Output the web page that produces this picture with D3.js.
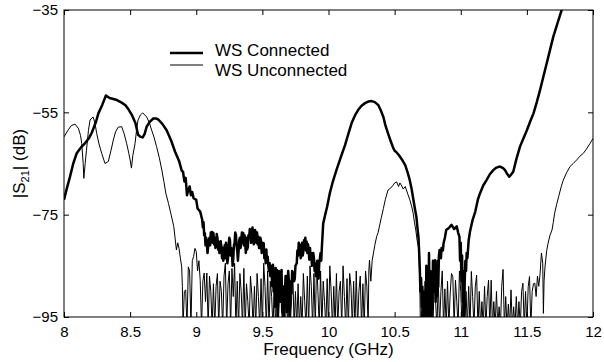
<!DOCTYPE html>
<html>
<head>
<meta charset="utf-8">
<script src="https://cdn.jsdelivr.net/npm/d3@7"></script>
<style>
  html, body { margin: 0; padding: 0; background: #fff; }
  svg { display: block; font-family: "Liberation Sans", Arial, Helvetica, sans-serif; }
</style>
</head>
<body>
<svg id="chart" width="604" height="362"></svg>
<script>
// ---------- DATA ----------
const xTicks = [8, 8.5, 9, 9.5, 10, 10.5, 11, 11.5, 12];
const yTicks = [-35, -55, -75, -95];
const seriesNames = ["WS Connected", "WS Unconnected"];

const connectedFreq = [
  8.00, 8.02, 8.045, 8.07, 8.096, 8.13, 8.16, 8.19, 8.21, 8.24, 8.26, 8.29, 8.317, 8.345, 8.373, 8.40,
  8.436, 8.465, 8.49, 8.515, 8.54, 8.56, 8.58, 8.595, 8.61, 8.625, 8.65, 8.675, 8.695, 8.713, 8.745, 8.776,
  8.81, 8.84, 8.87, 8.89, 8.90, 8.91, 8.92, 8.93, 8.94, 8.95, 8.96, 8.97, 8.98, 9.00, 9.01, 9.03,
  9.045, 9.05, 9.055, 9.06, 9.065, 9.07, 9.075, 9.08, 9.085, 9.09,
  9.095, 9.10, 9.105, 9.11, 9.115, 9.12, 9.125, 9.13, 9.135, 9.14,
  9.145, 9.15, 9.155, 9.16, 9.165, 9.17, 9.175, 9.18, 9.185, 9.19,
  9.195, 9.20, 9.205, 9.21, 9.215, 9.22, 9.225, 9.23, 9.235, 9.24,
  9.245, 9.25, 9.255, 9.26, 9.265, 9.27, 9.275, 9.28, 9.285, 9.29,
  9.295, 9.30, 9.305, 9.31, 9.315, 9.32, 9.325, 9.33, 9.335, 9.34,
  9.345, 9.35, 9.355, 9.36, 9.365, 9.37, 9.375, 9.38, 9.385, 9.39,
  9.395, 9.40, 9.405, 9.41, 9.415, 9.42, 9.425, 9.43, 9.435, 9.44,
  9.445, 9.45, 9.455, 9.46, 9.465, 9.47, 9.475, 9.48, 9.485, 9.49,
  9.495, 9.50, 9.505, 9.51, 9.515, 9.52, 9.525, 9.53, 9.535, 9.54,
  9.545,
  9.55, 9.555, 9.56, 9.565, 9.57, 9.575, 9.58, 9.585, 9.59, 9.595,
  9.60, 9.605, 9.61, 9.615, 9.62, 9.625, 9.63, 9.635, 9.645, 9.65,
  9.655, 9.66, 9.665, 9.67, 9.675, 9.68, 9.685, 9.69, 9.695, 9.70,
  9.705, 9.71, 9.715, 9.72, 9.725, 9.73, 9.74, 9.745, 9.75,
  9.76, 9.765, 9.77, 9.775, 9.78, 9.785, 9.79, 9.795, 9.80, 9.805,
  9.81, 9.815, 9.82, 9.825, 9.83, 9.835, 9.84, 9.845, 9.85, 9.855,
  9.86, 9.865, 9.87, 9.875, 9.88, 9.885, 9.89, 9.895, 9.90, 9.905,
  9.91, 9.915, 9.92, 9.925, 9.93, 9.935, 9.94, 9.945, 9.95,
  9.96, 9.975, 9.99, 10.01, 10.03, 10.06, 10.09, 10.125, 10.15, 10.175, 10.20, 10.225, 10.25, 10.276, 10.30,
  10.327, 10.35, 10.377, 10.395, 10.415, 10.43, 10.45, 10.47, 10.49, 10.50, 10.51, 10.53, 10.555, 10.58, 10.60, 10.615,
  10.63, 10.64, 10.655, 10.665, 10.675, 10.68, 10.685, 10.69, 10.695, 10.70, 10.705, 10.71, 10.715, 10.72, 10.725, 10.73,
  10.735, 10.74, 10.745, 10.75, 10.755, 10.76, 10.765, 10.77, 10.775, 10.78, 10.785, 10.79, 10.795, 10.80, 10.805, 10.81,
  10.815, 10.82, 10.825, 10.83, 10.835, 10.84, 10.85, 10.855, 10.865, 10.87, 10.88, 10.89, 10.91, 10.93, 10.95, 10.97,
  10.98, 10.99, 10.995, 11.00, 11.005, 11.01, 11.015, 11.02, 11.025, 11.03, 11.035, 11.04, 11.045, 11.05, 11.06, 11.07,
  11.09, 11.11, 11.13, 11.146, 11.17, 11.196, 11.22, 11.246, 11.27, 11.297, 11.32, 11.335, 11.35, 11.367, 11.38, 11.397,
  11.42, 11.448, 11.475, 11.50, 11.525, 11.55, 11.575, 11.60, 11.625, 11.65, 11.675, 11.70, 11.73, 11.763, 11.80
];
const connectedDb = [
  -72.1, -70.0, -67.6, -65.0, -63.0, -61.8, -61.0, -60.0, -59.0, -57.0, -55.2, -53.5, -51.7, -52.2, -52.4, -52.6,
  -53.1, -53.6, -54.5, -55.6, -57.1, -59.4, -59.8, -59.9, -59.2, -57.8, -56.8, -56.2, -56.2, -56.4, -57.3, -58.5,
  -60.5, -62.7, -64.5, -66.4, -66.6, -68.5, -67.8, -71.2, -70.2, -69.5, -71.2, -70.6, -71.8, -72.1, -73.8, -74.4,
  -76.0, -77.5, -76.5, -79.0, -78.6, -81.0, -79.5, -80.5, -82.5, -81.3,
  -80.0, -79.5, -81.0, -78.5, -79.8, -78.4, -80.5, -78.6, -80.8, -79.5,
  -81.5, -80.5, -78.8, -79.5, -81.8, -80.3, -82.5, -82.0, -80.2, -81.3,
  -83.5, -81.5, -84.0, -82.8, -81.0, -83.5, -80.5, -82.2, -84.5, -83.5,
  -81.0, -79.5, -80.0, -83.0, -81.5, -82.5, -85.0, -83.5, -81.0, -80.5,
  -78.5, -79.0, -81.0, -82.0, -84.0, -82.2, -80.0, -79.5, -81.5, -80.2,
  -78.5, -80.5, -78.6, -81.0, -79.0, -80.5, -82.5, -79.5, -81.8, -81.3,
  -79.0, -79.5, -77.8, -78.4, -80.5, -79.5, -77.5, -78.6, -80.8, -80.0,
  -78.0, -78.8, -80.5, -78.5, -80.8, -79.3, -81.5, -81.5, -79.5, -80.2,
  -82.5, -80.5, -82.0, -80.6, -83.5, -82.5, -84.5, -81.8, -84.0, -83.2,
  -85.0,
  -86.0, -84.5, -87.0, -85.0, -86.5, -89.0, -84.8, -90.0, -87.2, -93.0,
  -85.4, -88.0, -85.8, -95.0, -89.7, -86.0, -86.5, -92.0, -85.8, -94.0,
  -89.0, -96.0, -90.0, -91.7, -87.0, -87.0, -94.0, -89.5, -86.0, -87.8,
  -95.0, -92.0, -88.0, -90.4, -86.0, -86.5, -88.0, -87.5, -85.0,
  -84.5, -82.0, -83.0, -80.5, -82.5, -80.9, -83.5, -82.5, -80.5, -83.0,
  -82.2, -80.0, -81.0, -79.5, -82.0, -80.3, -82.5, -80.8, -82.0, -83.8,
  -81.5, -83.5, -82.5, -85.0, -84.0, -82.5, -83.5, -86.0, -84.5, -87.0,
  -85.8, -84.0, -86.1, -87.5, -84.5, -83.5, -82.5, -84.0, -81.3,
  -76.7, -75.0, -73.4, -70.8, -68.8, -66.3, -64.0, -61.4, -59.2, -57.1, -55.6, -54.5, -53.7, -53.2, -52.9,
  -52.8, -53.0, -53.6, -54.6, -55.9, -57.5, -59.1, -60.6, -62.0, -62.5, -62.7, -63.3, -64.2, -65.3, -66.9, -68.3,
  -70.2, -71.8, -74.1, -75.5, -78.2, -79.3, -82.0, -85.2, -90.0, -87.4, -93.0, -89.1, -96.0, -90.0, -97.0, -91.0,
  -97.0, -85.0, -93.0, -88.0, -97.0, -82.5, -92.0, -86.0, -97.0, -88.0, -93.6, -84.0, -90.0, -85.0, -83.9, -92.0,
  -86.0, -91.0, -84.0, -89.1, -83.0, -81.9, -83.5, -81.5, -82.0, -80.6, -79.5, -78.0, -77.6, -77.0, -77.8, -77.3,
  -78.5, -79.3, -84.0, -80.5, -88.0, -83.0, -92.0, -86.0, -97.0, -88.0, -84.0, -86.0, -82.5, -83.5, -80.0, -78.3,
  -76.0, -74.4, -72.0, -70.8, -69.3, -68.2, -67.1, -66.3, -65.8, -65.6, -65.9, -66.3, -67.0, -67.6, -67.2, -66.6,
  -64.2, -61.7, -60.0, -58.5, -56.8, -55.2, -53.0, -50.6, -48.0, -45.4, -42.8, -40.2, -37.7, -35.0, -32.0
];

const unconnectedFreq = [
  8.00, 8.03, 8.055, 8.083, 8.108, 8.125, 8.134, 8.145, 8.15, 8.16, 8.17, 8.185, 8.197, 8.22, 8.235, 8.247,
  8.265, 8.285, 8.31, 8.335, 8.355, 8.373, 8.39, 8.41, 8.436, 8.455, 8.474, 8.49, 8.50, 8.51, 8.52, 8.537,
  8.55, 8.56, 8.578, 8.595, 8.625, 8.645, 8.663, 8.68, 8.70, 8.72, 8.74, 8.755, 8.77, 8.79, 8.81, 8.83,
  8.85, 8.86, 8.87, 8.88, 8.89, 8.895,
  8.90, 8.91, 8.92, 8.93, 8.94, 8.95, 8.96, 8.97, 8.98, 8.99, 9.00, 9.01, 9.02, 9.03, 9.04, 9.05,
  9.06, 9.07, 9.08, 9.09, 9.10, 9.11, 9.12, 9.13, 9.14, 9.15, 9.16, 9.17, 9.18, 9.19, 9.20, 9.21,
  9.22, 9.23, 9.24, 9.25, 9.26, 9.27, 9.28, 9.29, 9.30, 9.31, 9.32, 9.33, 9.34, 9.35, 9.36, 9.37,
  9.38, 9.39, 9.40, 9.41, 9.42, 9.43, 9.44, 9.45, 9.46, 9.47, 9.48, 9.49, 9.50, 9.51, 9.52, 9.53,
  9.54, 9.55, 9.56, 9.57, 9.58, 9.59, 9.60, 9.61, 9.62, 9.63, 9.64, 9.65, 9.66, 9.67, 9.68, 9.69,
  9.70, 9.71, 9.72, 9.73, 9.74, 9.75, 9.76, 9.77, 9.78, 9.79, 9.80, 9.81, 9.82, 9.83, 9.84, 9.85,
  9.86, 9.87, 9.88, 9.89, 9.90, 9.91, 9.92, 9.93, 9.94, 9.95, 9.96, 9.97, 9.98, 9.99, 10.00, 10.01,
  10.02, 10.03, 10.04, 10.05, 10.06, 10.07, 10.08, 10.09, 10.10, 10.11, 10.12, 10.13, 10.14, 10.15, 10.16, 10.17,
  10.18, 10.19, 10.20, 10.21, 10.22, 10.23, 10.24, 10.25, 10.26, 10.27, 10.28, 10.29, 10.30,
  10.305, 10.31, 10.32, 10.33, 10.34, 10.35, 10.364, 10.375, 10.39, 10.40, 10.415, 10.43, 10.45, 10.47, 10.49, 10.50,
  10.515, 10.53, 10.54, 10.55, 10.565, 10.58, 10.60, 10.615, 10.63, 10.64, 10.65, 10.66, 10.67, 10.68, 10.685, 10.69, 10.695,
  10.70, 10.71, 10.72, 10.73, 10.74, 10.75, 10.76, 10.77, 10.78, 10.79, 10.80, 10.81, 10.82, 10.83, 10.84, 10.85,
  10.86, 10.87, 10.88, 10.89, 10.90, 10.91, 10.92, 10.93, 10.94, 10.95, 10.96, 10.97, 10.98, 10.99, 11.00, 11.01,
  11.02, 11.03, 11.04, 11.05, 11.06, 11.07, 11.08, 11.09, 11.10, 11.11, 11.12, 11.13, 11.14, 11.15, 11.16, 11.17,
  11.18, 11.19, 11.20, 11.21, 11.22, 11.23, 11.24, 11.25, 11.26, 11.27, 11.28, 11.29, 11.30, 11.31, 11.32, 11.33,
  11.34, 11.35, 11.36, 11.37, 11.38, 11.39, 11.40, 11.41, 11.42, 11.43, 11.44, 11.45, 11.46, 11.47, 11.48, 11.49,
  11.50, 11.51, 11.52, 11.53, 11.54, 11.55, 11.56, 11.57, 11.58, 11.59, 11.60, 11.61, 11.62, 11.625, 11.63, 11.637,
  11.65, 11.66, 11.675, 11.69, 11.70, 11.71, 11.725, 11.74, 11.76, 11.776, 11.80, 11.826, 11.85, 11.877, 11.90, 11.927,
  11.95, 11.977, 12.00
];
const unconnectedDb = [
  -59.8, -58.5, -57.6, -57.3, -58.1, -59.5, -61.1, -65.0, -67.9, -65.0, -62.4, -58.5, -56.5, -55.9, -57.2, -59.1,
  -61.2, -63.0, -65.0, -64.6, -62.5, -60.4, -58.8, -57.9, -57.8, -59.2, -61.1, -63.0, -64.3, -65.9, -63.5, -61.1,
  -58.2, -56.5, -55.5, -55.1, -55.9, -57.0, -58.5, -59.8, -61.7, -63.8, -66.3, -68.5, -70.8, -72.8, -75.0, -77.3,
  -81.9, -80.5, -81.6, -83.5, -85.2, -89.0,
  -97, -90.0, -89.7, -97, -85.2, -86.0, -97, -84.0, -83.2, -81.6, -82.2, -86.0, -84.0, -87.8, -97, -88.0,
  -86.4, -92.0, -86.4, -97, -87.0, -90.0, -97, -88.5, -97, -89.0, -86.5, -97, -88.0, -90.0, -97, -87.0,
  -84.5, -97, -88.5, -86.0, -97, -85.5, -91.0, -84.5, -97, -88.0, -97, -86.5, -90.0, -97, -85.5, -97,
  -88.5, -92.0, -97, -87.0, -90.5, -97, -89.0, -97, -86.5, -91.0, -97, -87.5, -97, -84.5, -89.0, -97,
  -86.0, -97, -88.0, -91.0, -97, -89.5, -97, -87.5, -97, -90.0, -86.5, -97, -91.5, -97, -88.0, -97,
  -89.5, -97, -92.0, -86.0, -97, -90.0, -97, -88.5, -97, -91.0, -97, -86.5, -92.0, -97, -87.0, -97,
  -85.0, -89.0, -97, -86.5, -97, -84.0, -90.0, -97, -86.0, -97, -88.0, -92.0, -97, -87.5, -97, -85.0,
  -90.0, -97, -89.0, -97, -86.5, -97, -90.0, -88.0, -97, -85.0, -91.0, -97, -87.5, -97, -86.5, -89.0,
  -97, -88.0, -97, -86.0, -97, -90.0, -87.0, -97, -88.5, -97, -86.0, -89.0, -97,
  -86.0, -83.9, -88.0, -84.0, -82.5, -81.0, -79.3, -78.5, -76.7, -75.5, -73.8, -72.0, -70.2, -69.8, -69.2, -68.8,
  -68.6, -69.5, -68.8, -69.2, -70.0, -69.5, -71.0, -72.1, -73.5, -74.7, -76.5, -78.0, -80.0, -81.3, -84.0, -87.8, -97,
  -97, -90.0, -97, -88.0, -97, -91.0, -86.5, -97, -89.0, -97, -87.0, -92.0, -97, -88.0, -97, -90.0,
  -86.0, -97, -89.5, -97, -88.0, -97, -90.5, -86.5, -87.1, -97, -87.8, -92.0, -97, -86.0, -90.0, -97,
  -88.0, -97, -90.0, -97, -89.0, -97, -86.1, -91.0, -97, -89.0, -86.8, -97, -90.0, -97, -92.0, -97,
  -89.0, -97, -91.0, -87.8, -97, -87.8, -97, -92.0, -97, -90.0, -97, -93.0, -97, -89.0, -85.7, -97,
  -91.0, -97, -92.5, -97, -89.7, -97, -93.0, -97, -91.0, -97, -92.0, -97, -90.0, -88.4, -97, -90.0,
  -97, -89.1, -87.1, -97, -90.0, -88.5, -88.4, -91.0, -87.0, -89.0, -86.5, -82.5, -84.5, -94.3, -88.0, -85.2,
  -82.0, -80.6, -79.0, -78.0, -76.5, -74.7, -73.0, -71.5, -69.5, -68.2, -66.8, -65.6, -65.0, -64.3, -63.6, -63.0,
  -62.2, -61.1, -60.1
];

if (connectedFreq.length !== connectedDb.length || unconnectedFreq.length !== unconnectedDb.length) {
  throw new Error("length mismatch " + connectedFreq.length + "/" + connectedDb.length + " " +
    unconnectedFreq.length + "/" + unconnectedDb.length);
}

// ---------- LAYOUT ----------
const svg = d3.select("#chart");
const L = 64, R = 593, T = 10, B = 317;
const x = d3.scaleLinear().domain([8, 12]).range([L, R]);
const y = d3.scaleLinear().domain([-95, -35]).range([B, T]);

svg.append("defs").append("clipPath").attr("id", "plotclip")
  .append("rect").attr("x", L).attr("y", T).attr("width", R - L).attr("height", B - T);

const connected = connectedFreq.map((f, i) => [f, connectedDb[i]]);
const unconnected = unconnectedFreq.map((f, i) => [f, unconnectedDb[i]]);
const line = d3.line().x(d => x(d[0])).y(d => y(d[1]));

const plot = svg.append("g").attr("clip-path", "url(#plotclip)");
plot.append("path").datum(unconnected).attr("d", line)
  .attr("fill", "none").attr("stroke", "#000").attr("stroke-width", 1).attr("stroke-linejoin", "round");
plot.append("path").datum(connected).attr("d", line)
  .attr("fill", "none").attr("stroke", "#000").attr("stroke-width", 2.5).attr("stroke-linejoin", "round");

// ---------- AXES ----------
const fmtX = d3.format("");
const fmtY = d3.format("");
function styleAxis(g) {
  g.select(".domain").remove();
  g.selectAll(".tick line").attr("stroke", "#000");
  g.selectAll("text").attr("font-size", 15).attr("fill", "#000")
    .attr("font-family", "Liberation Sans, Arial, sans-serif");
}
svg.append("g").attr("transform", `translate(0,${B})`)
  .call(d3.axisBottom(x).tickValues(xTicks).tickFormat(fmtX).tickSizeInner(-5).tickSizeOuter(0).tickPadding(9.5))
  .call(styleAxis);
svg.append("g").attr("transform", `translate(0,${T})`)
  .call(d3.axisTop(x).tickValues(xTicks).tickFormat("").tickSizeInner(-5).tickSizeOuter(0))
  .call(styleAxis);
svg.append("g").attr("transform", `translate(${L},0)`)
  .call(d3.axisLeft(y).tickValues(yTicks).tickFormat(fmtY).tickSizeInner(-5).tickSizeOuter(0).tickPadding(6))
  .call(styleAxis);
svg.append("g").attr("transform", `translate(${R},0)`)
  .call(d3.axisRight(y).tickValues(yTicks).tickFormat("").tickSizeInner(-5).tickSizeOuter(0))
  .call(styleAxis);

svg.append("rect").attr("x", L).attr("y", T).attr("width", R - L).attr("height", B - T)
  .attr("fill", "none").attr("stroke", "#000").attr("stroke-width", 1);

// ---------- LABELS ----------
svg.append("text").attr("x", (L + R) / 2).attr("y", 355).attr("text-anchor", "middle")
  .attr("font-size", 17).attr("fill", "#000").text("Frequency (GHz)");

const yl = svg.append("text").attr("transform", `translate(25,${(T + B) / 2}) rotate(-90)`)
  .attr("text-anchor", "middle").attr("font-size", 17).attr("fill", "#000");
yl.append("tspan").text("|S");
yl.append("tspan").attr("font-size", 11).attr("dy", 4).text("21");
yl.append("tspan").attr("dy", -4).text("| (dB)");

// ---------- LEGEND ----------
const legendY = [53, 65];
const legendW = [2.5, 1];
const lg = svg.append("g");
seriesNames.forEach((name, i) => {
  lg.append("line").attr("x1", 170).attr("x2", 203).attr("y1", legendY[i]).attr("y2", legendY[i])
    .attr("stroke", "#000").attr("stroke-width", legendW[i]);
  lg.append("text").attr("x", 215).attr("y", legendY[i] + (i === 0 ? 3 : 10.5))
    .attr("font-size", 17).attr("fill", "#000").text(name);
});
</script>
</body>
</html>
